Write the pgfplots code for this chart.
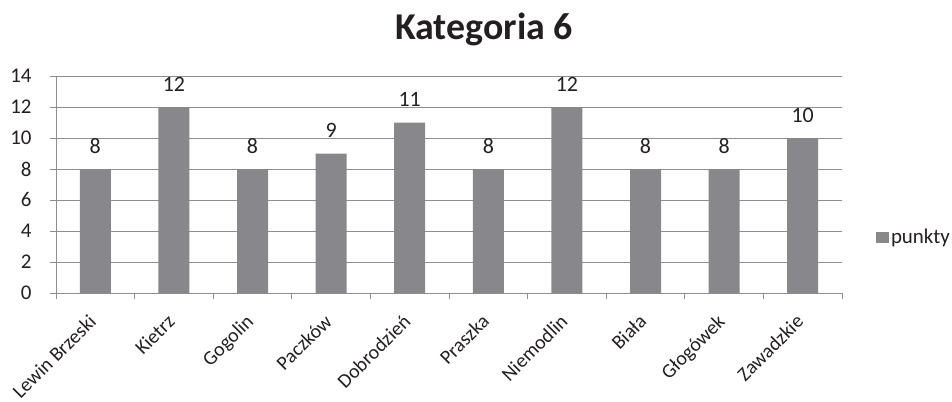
\documentclass[border=0pt]{standalone}
\usepackage{pgfplots}
\pgfplotsset{compat=1.18}
\usepackage{fontspec}
\setmainfont{Carlito}
\definecolor{barc}{HTML}{88888C}
\definecolor{gridc}{HTML}{8E8E8E}
\definecolor{txt}{HTML}{231F20}
\begin{document}
\begin{tikzpicture}[x=1bp,y=1bp]
\useasboundingbox (0,0) rectangle (952,401);
\node[font=\fontsize{38}{40}\selectfont\bfseries, text=txt, anchor=base] at (484,362) {Kategoria 6};
\begin{axis}[
  at={(56bp,108bp)}, anchor=south west,
  scale only axis, width=786bp, height=217bp,
  /pgf/number format/assume math mode=true,
  ymin=0, ymax=14, xmin=-0.5, xmax=9.5,
  ytick={0,2,...,14},
  ymajorgrids, grid style={gridc, line width=0.8bp},
  axis x line*=bottom, axis y line*=left,
  axis line style={gridc, line width=0.8bp, -},
  xtick={0,...,9},
  xticklabels={Lewin Brzeski,Kietrz,Gogolin,Paczków,Dobrodzień,Praszka,Niemodlin,Biała,Głogówek,Zawadzkie},
  minor xtick={-0.5,0.5,...,9.5},
  major x tick style={draw=none},
  tick align=outside,
  major tick length=6bp, minor tick length=6bp,
  tick style={gridc, line width=0.8bp},
  ticklabel style={font=\fontsize{21}{24}\selectfont, text=txt},
  y tick label style={xshift=-15bp},
  x tick label style={font=\fontsize{20}{24}\selectfont, rotate=45, anchor=north east, xshift=-12bp, yshift=-1bp},
  ybar, bar width=31bp,
  nodes near coords,
  nodes near coords style={font=\fontsize{22}{24}\selectfont, text=txt, yshift=12bp},
  legend style={at={(1.043,0.258)}, anchor=west, draw=none, fill=none, font=\fontsize{21}{24}\selectfont, text=txt, inner sep=0pt},
  legend image code/.code={\fill[barc] (0bp,-5.5bp) rectangle (13bp,5.5bp);},
]
\addplot[fill=barc, draw=none] coordinates {(0,8) (1,12) (2,8) (3,9) (4,11) (5,8) (6,12) (7,8) (8,8) (9,10)};
\addlegendentry{punkty}
\end{axis}
\end{tikzpicture}
\end{document}
